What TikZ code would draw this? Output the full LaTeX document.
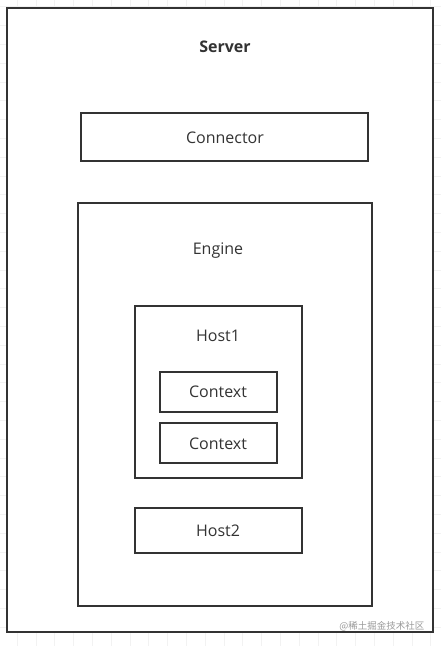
\documentclass[tikz,border=0pt]{standalone}
\usepackage{fontspec}
\setmainfont{Open Sans}
\newfontfamily\cjkfont{Noto Sans CJK SC}
\usepackage{tikz}
\usetikzlibrary{positioning}
\definecolor{linegray}{HTML}{333333}
\definecolor{gridgray}{HTML}{F2F2F2}

\begin{document}
\begin{tikzpicture}[x=1pt,y=-1pt,
    box/.style={rectangle,draw=linegray,line width=2.5pt,fill=white,inner sep=0pt},
    lbl/.style={text=linegray,font=\fontsize{16}{19}\selectfont},
    gridline/.style={draw=gridgray,line width=0.8pt}]
      \useasboundingbox (0,0) rectangle (441,646);
      % faint canvas grid
      \foreach \gx in {0,...,22} {
        \draw[gridline] (17.2+18.8*\gx,0) -- ++(0,646);
      }
      \foreach \gy in {0,...,34} {
        \draw[gridline] (0,6.8+18.8*\gy) -- ++(441,0);
      }
      % containers
      \node[box,minimum width=426pt,minimum height=624pt] (server) at (220,320) {};
      \node[lbl,font=\fontsize{16}{19}\selectfont\bfseries] (serverlbl) at (225,47) {Server};
      \node[box,minimum width=287pt,minimum height=48pt] (connector) at (224.5,137) {};
      \node[lbl] (connectorlbl) at (225,138) {Connector};
      \node[box,minimum width=294pt,minimum height=403pt] (engine) at (225,404.5) {};
      \node[lbl] (enginelbl) at (218,251) {Engine};
      \node[box,minimum width=167pt,minimum height=172pt] (host1) at (218.5,392) {};
      \node[lbl] (host1lbl) at (218,336) {Host1};
      \node[box,minimum width=117pt,minimum height=40pt] (ctxa) at (218.5,392) {};
      \node[lbl] (ctxalbl) at (218,392) {Context};
      \node[box,minimum width=117pt,minimum height=40pt] (ctxb) at (218.5,443) {};
      \node[lbl] (ctxblbl) at (218,444) {Context};
      \node[box,minimum width=167pt,minimum height=45pt] (host2) at (218.5,530.5) {};
      \node[lbl] (host2lbl) at (218,531) {Host2};
      % watermark
      \node[text=black!40,font=\cjkfont\fontsize{9.5}{11}\selectfont,anchor=east]
        (mark) at (428,626) {@稀土掘金技术社区};
\end{tikzpicture}
\end{document}
